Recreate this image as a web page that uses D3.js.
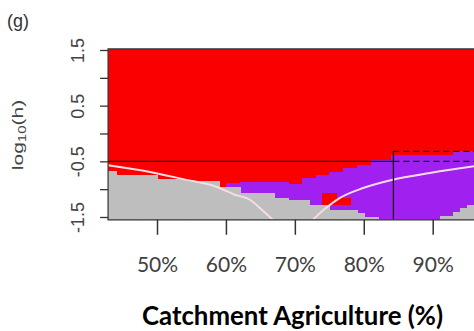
<!DOCTYPE html>
<html>
<head>
<meta charset="utf-8">
<script src="https://cdn.jsdelivr.net/npm/d3@7"></script>
<style>
  body { margin: 0; background: #fff; }
  svg { display: block; }
</style>
</head>
<body>
<div id="chart"></div>
<script>
// columns of the grid (catchment agriculture, %), each cell spans [p, p+1]
const agri = [42, 43, 44, 45, 46, 47, 48, 49, 50, 51, 52, 53, 54, 55, 56, 57, 58, 59, 60, 61,
  62, 63, 64, 65, 66, 67, 68, 69, 70, 71, 72, 73, 74, 75, 76, 77, 78, 79, 80, 81,
  82, 83, 84, 85, 86, 87, 88, 89, 90, 91, 92, 93, 94, 95];
// upper limit (log10 h) of the grey zone per column
const greyTop = [-0.68, -0.68, -0.75, -0.75, -0.75, -0.75, -0.75, -0.75, -0.82, -0.82, -0.82, -0.82,
  -0.86, -0.86, -0.86, -0.86, -0.86, -0.97, -0.97, -0.97,
  -1.07, -1.07, -1.07, -1.07, -1.07, -1.16, -1.16, -1.2, -1.2, -1.2,
  -1.28, -1.28, -1.28, -1.37, -1.37, -1.37, -1.37, -1.43, -1.5, -1.5,
  -1.55, -1.55, -1.55, -1.55, -1.55, -1.55, -1.55, -1.55, -1.55,
  -1.48, -1.48, -1.41, -1.34, -1.28];
// upper limit (log10 h) of the purple zone per column (red above)
const purpleTop = [-0.68, -0.68, -0.75, -0.75, -0.75, -0.75, -0.75, -0.75, -0.82, -0.82, -0.82, -0.82,
  -0.86, -0.86, -0.86, -0.86, -0.86, -0.97, -0.89, -0.89,
  -0.87, -0.87, -0.87, -0.87, -0.87, -0.87, -0.87, -0.9, -0.9, -0.8,
  -0.8, -0.75, -0.75, -0.69, -0.69, -0.62, -0.62, -0.57, -0.57, -0.47,
  -0.47, -0.47, -0.39, -0.39, -0.39, -0.39, -0.39, -0.39, -0.39,
  -0.39, -0.39, -0.31, -0.31, -0.31];
// small red patch inside the purple zone
const patchAgri = [74, 75, 76, 77];
const patchLow = [-1.28, -1.28, -1.28, -1.28];
const patchHigh = [-1.07, -1.07, -1.16, -1.16];

// light curves
const curve1Agri = [42.9, 49, 53.8, 58.7, 61.3, 63.5, 65.3, 66.8];
const curve1Log = [-0.57, -0.69, -0.82, -0.96, -1.1, -1.19, -1.38, -1.55];
const curve2Agri = [72.6, 74.2, 76.5, 79.9, 84.2, 89.6, 96];
const curve2Log = [-1.55, -1.37, -1.16, -0.98, -0.83, -0.71, -0.59];

// reference lines
const refLog = -0.5;
const boxAgri = 84.3;
const boxTopLog = -0.32;

// axes
const xTicks = [50, 60, 70, 80, 90];
const xTickLabels = ["50%", "60%", "70%", "80%", "90%"];
const yTicks = [1.5, 1, 0.5, 0, -0.5, -1, -1.5];
const yTickLabels = ["1.5", "", "0.5", "", "-0.5", "", "-1.5"];

const width = 474, height = 331;
const xMin = 42.9, xMax = 96, yMin = -1.55, yMax = 1.52;

const x = d3.scaleLinear().domain([50, 90]).range([157, 432.7]);
const y = d3.scaleLinear().domain([-1.5, 1.5]).range([217, 50]);

const svg = d3.select("#chart").append("svg")
  .attr("width", width).attr("height", height);

svg.append("defs").append("clipPath").attr("id", "plot")
  .append("rect")
  .attr("x", x(xMin)).attr("y", y(yMax))
  .attr("width", x(xMax) - x(xMin)).attr("height", y(yMin) - y(yMax));

const plot = svg.append("g").attr("clip-path", "url(#plot)")
  .attr("shape-rendering", "crispEdges");

const cols = agri.map((p, i) => ({ p, g: greyTop[i], u: purpleTop[i] }));
const cellX = d => Math.round(x(d.p));
const cellW = d => Math.round(x(d.p + 1)) - Math.round(x(d.p)) + 1;

plot.selectAll("rect.red").data(cols).join("rect").attr("class", "red")
  .attr("x", cellX).attr("width", cellW)
  .attr("y", y(yMax)).attr("height", d => y(d.u) - y(yMax) + 0.5)
  .attr("fill", "#fb0000");

plot.selectAll("rect.purple").data(cols.filter(d => d.u > d.g)).join("rect").attr("class", "purple")
  .attr("x", cellX).attr("width", cellW)
  .attr("y", d => y(d.u)).attr("height", d => y(d.g) - y(d.u) + 0.5)
  .attr("fill", "#a020f0");

plot.selectAll("rect.grey").data(cols.filter(d => d.g > yMin)).join("rect").attr("class", "grey")
  .attr("x", cellX).attr("width", cellW)
  .attr("y", d => y(d.g)).attr("height", d => y(yMin) - y(d.g) + 1)
  .attr("fill", "#bebebe");

plot.selectAll("rect.patch").data(patchAgri.map((p, i) => ({ p, lo: patchLow[i], hi: patchHigh[i] })))
  .join("rect").attr("class", "patch")
  .attr("x", cellX).attr("width", cellW)
  .attr("y", d => y(d.hi)).attr("height", d => y(d.lo) - y(d.hi))
  .attr("fill", "#fb0000");

const curves = svg.append("g").attr("clip-path", "url(#plot)");
const line = d3.line().x(d => x(d[0])).y(d => y(d[1])).curve(d3.curveMonotoneX);
[[curve1Agri, curve1Log], [curve2Agri, curve2Log]].forEach(([xs, ys]) => {
  curves.append("path")
    .attr("d", line(xs.map((v, i) => [v, ys[i]])))
    .attr("fill", "none").attr("stroke", "#f6dce6").attr("stroke-width", 2);
});

// black reference lines
curves.append("line")
  .attr("x1", x(xMin)).attr("x2", x(boxAgri)).attr("y1", y(refLog)).attr("y2", y(refLog))
  .attr("stroke", "#111").attr("stroke-width", 1.3);
curves.append("line")
  .attr("x1", x(boxAgri)).attr("x2", x(xMax)).attr("y1", y(refLog)).attr("y2", y(refLog))
  .attr("stroke", "#111").attr("stroke-width", 1.3).attr("stroke-dasharray", "6,4");
curves.append("line")
  .attr("x1", x(boxAgri)).attr("x2", x(xMax)).attr("y1", y(boxTopLog)).attr("y2", y(boxTopLog))
  .attr("stroke", "#111").attr("stroke-width", 1.3).attr("stroke-dasharray", "6,4");
curves.append("line")
  .attr("x1", x(boxAgri)).attr("x2", x(boxAgri)).attr("y1", y(boxTopLog)).attr("y2", y(yMin))
  .attr("stroke", "#111").attr("stroke-width", 1.3);

// frame
svg.append("path")
  .attr("d", `M${x(xMax)},${y(yMax)}H${x(xMin)}V${y(yMin)}H${x(xMax)}`)
  .attr("fill", "none").attr("stroke", "#333").attr("stroke-width", 1.2);

// y axis
const yAxis = svg.append("g").attr("transform", `translate(${x(xMin)},0)`)
  .call(d3.axisLeft(y).tickValues(yTicks).tickSize(8).tickSizeOuter(0)
    .tickFormat((d, i) => yTickLabels[i]));
yAxis.select(".domain").remove();
yAxis.selectAll(".tick line").attr("stroke", "#333").attr("stroke-width", 1.3);
yAxis.selectAll(".tick text")
  .attr("x", 0).attr("dy", 0).attr("text-anchor", "middle")
  .attr("transform", "translate(-24,0) rotate(-90)")
  .attr("fill", "#444").style("font-family", "'Liberation Sans', Arial, sans-serif")
  .style("font-size", "18px");

// x axis
const xAxis = svg.append("g").attr("transform", `translate(0,${y(yMin)})`)
  .call(d3.axisBottom(x).tickValues(xTicks).tickSize(15).tickSizeOuter(0)
    .tickFormat((d, i) => xTickLabels[i]));
xAxis.select(".domain").remove();
xAxis.selectAll(".tick line").attr("stroke", "#333").attr("stroke-width", 1.5);
xAxis.selectAll(".tick text")
  .attr("y", 52).attr("dy", 0)
  .attr("fill", "#404040").style("font-family", "Lato, 'Open Sans', sans-serif")
  .style("font-size", "21px");

// y label log10(h)
const ylab = svg.append("text")
  .attr("transform", "translate(23,135) rotate(-90) scale(1.5,1)")
  .attr("text-anchor", "middle")
  .attr("fill", "#444")
  .style("font-family", "'Liberation Sans', Arial, sans-serif")
  .style("font-size", "14px");
ylab.append("tspan").text("log");
ylab.append("tspan").attr("dy", 3).style("font-size", "10px").text("10");
ylab.append("tspan").attr("dy", -3).text("(h)");

// panel letter
svg.append("text").attr("x", 7).attr("y", 27)
  .attr("fill", "#333")
  .style("font-family", "'Liberation Sans', Arial, sans-serif")
  .style("font-size", "18px").text("(g)");

// x title, fitted to its width in the picture
const title = svg.append("text").attr("x", 292.5).attr("y", 325)
  .attr("text-anchor", "middle").attr("fill", "#000")
  .style("font-family", "Lato, 'Open Sans', sans-serif").style("font-weight", "bold")
  .style("font-size", "24px").text("Catchment Agriculture (%)");
const tw = title.node().getComputedTextLength();
title.style("font-size", (24 * 301 / tw).toFixed(1) + "px");
</script>
</body>
</html>
